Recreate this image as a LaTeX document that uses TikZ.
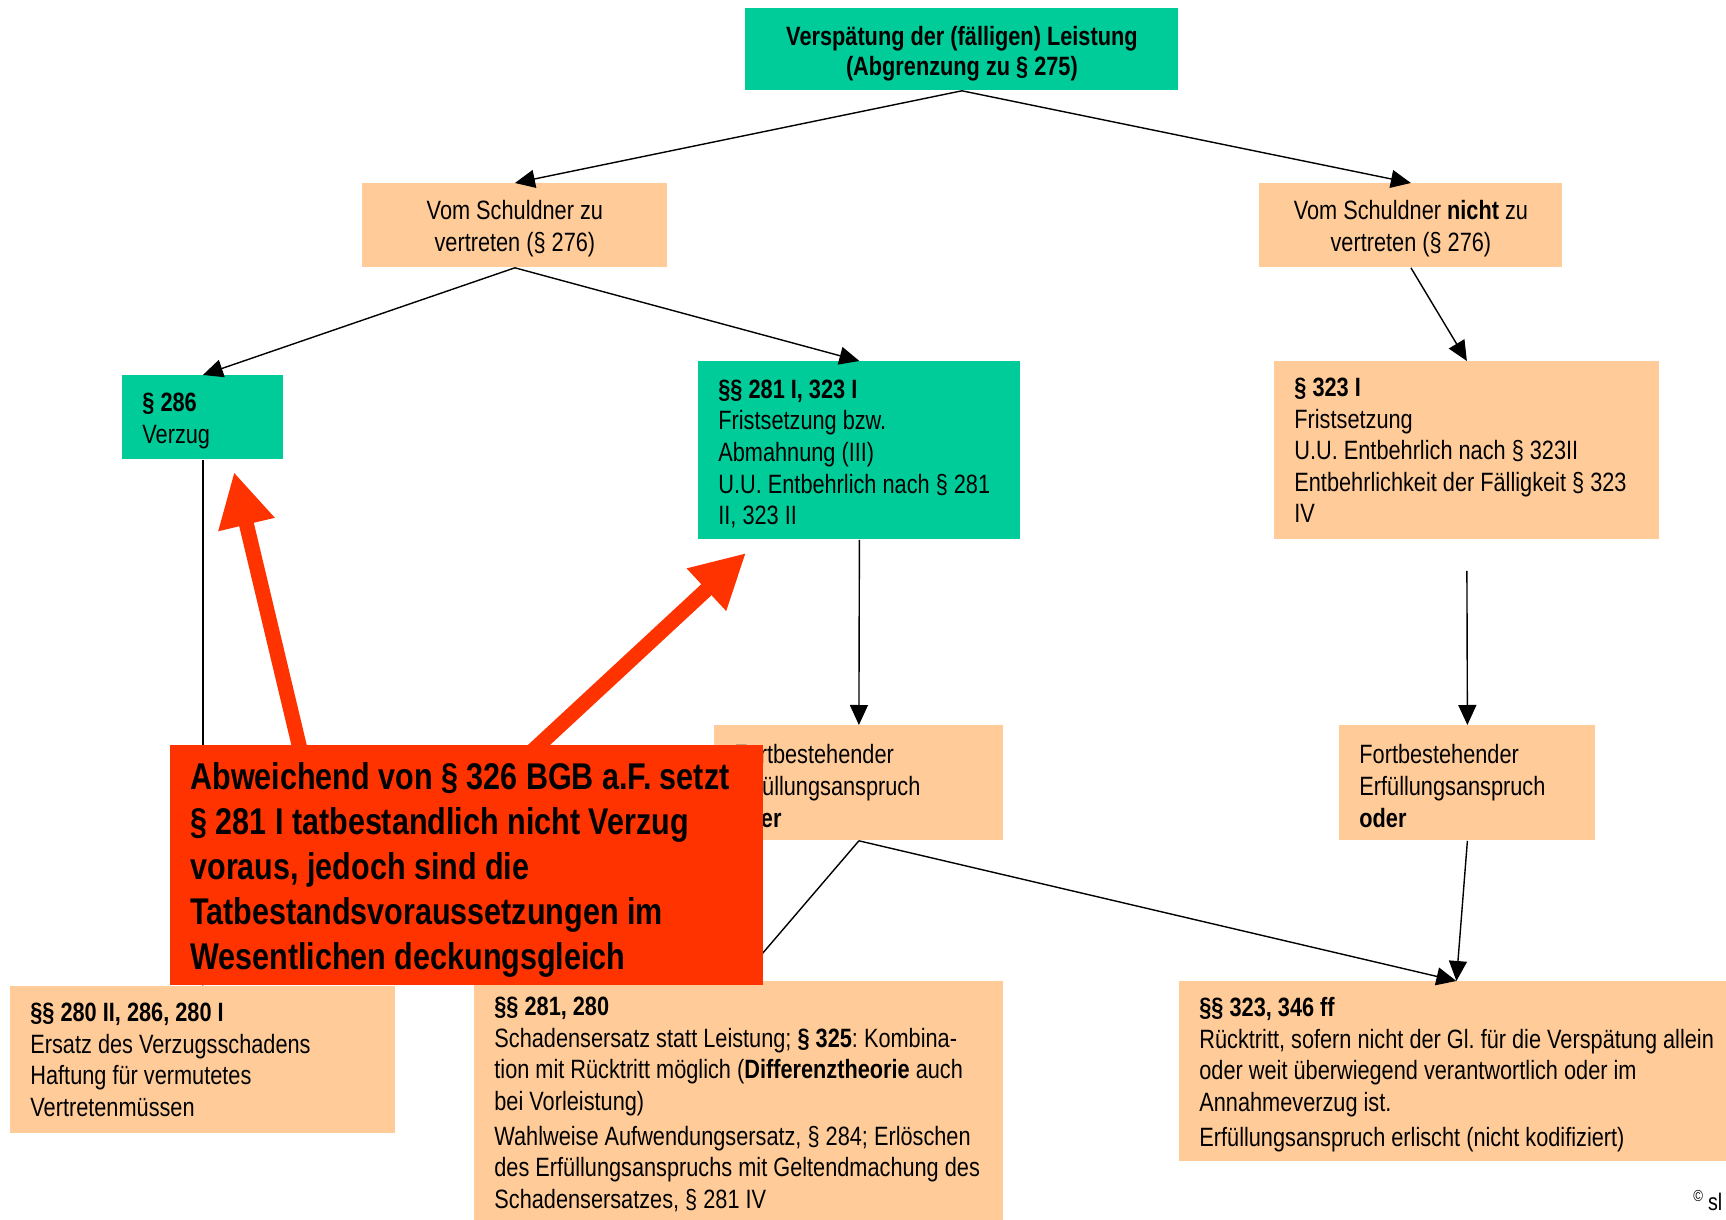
\documentclass[tikz,border=0pt]{standalone}
\usepackage{fontspec}
\setmainfont{Liberation Sans}[FakeStretch=0.82]
\frenchspacing
\usetikzlibrary{arrows.meta,positioning}
\definecolor{lawgreen}{RGB}{0,204,153}
\definecolor{lawpeach}{RGB}{255,204,153}
\definecolor{hintred}{RGB}{255,51,0}
\tikzset{
    boxsize/.style 2 args={text width=#1, minimum height=#2},
    topstrut/.style={execute at begin node={\rule{0pt}{#1}}},
}
\tikzstyle{delay chart}=[
    x=0.5pt, y=-0.5pt,
    every node/.style={
        anchor=north west, align=flush left,
        inner xsep=10pt, inner ysep=0pt,
        font=\fontsize{13.25}{15.8}\selectfont,
    },
]
\tikzstyle{green box}=[fill=lawgreen, topstrut=12.8pt]
\tikzstyle{peach box}=[fill=lawpeach, topstrut=12.8pt]
\tikzstyle{flow}=[-{Triangle[length=10pt,width=9pt]}, line width=0.7pt]
\tikzstyle{hint}=[-{Triangle[length=27pt,width=27pt]}, line width=7.5pt, draw=hintred]
\newcommand{\lawlabel}[2]{\textbf{#1}\\#2}

\begin{document}
\begin{tikzpicture}[delay chart]
    \path[use as bounding box, fill=white] (0,0) rectangle (1726,1220);

    % upper rows
    \node[fill=lawgreen, topstrut=14pt, boxsize={196.5pt}{41pt}, align=flush center, font=\fontsize{13.25}{15}\selectfont\bfseries] (delay) at (745,8)
        {Verspätung der (fälligen) Leistung\\(Abgrenzung zu § 275)};
    \node[peach box, boxsize={132.5pt}{42pt}, align=flush center] (owed) at (362,183)
        {Vom Schuldner zu\\vertreten (§ 276)};
    \node[peach box, boxsize={131.5pt}{42pt}, align=flush center] (notowed) at (1259,183)
        {Vom Schuldner \textbf{nicht} zu\\vertreten (§ 276)};
    \node[green box, boxsize={60.5pt}{42pt}] (verzug) at (122,375)
        {\lawlabel{§ 286}{Verzug}};
    \node[green box, boxsize={141pt}{89pt}] (frist) at (698,361)
        {\lawlabel{§§ 281 I, 323 I}{Fristsetzung bzw.\\Abmahnung (III)\\\mbox{U.U. Entbehrlich nach § 281}\\II, 323 II}};
    \node[fill=lawpeach, boxsize={172.5pt}{89pt}] (rfrist) at (1274,361)
        {\lawlabel{§ 323 I}{Fristsetzung\\U.U. Entbehrlich nach § 323II\\\mbox{Entbehrlichkeit der Fälligkeit § 323}\\IV}};
    \coordinate[below=15.5pt of rfrist] (gap);

    % Erfuellungsanspruch
    \node[peach box, boxsize={124.5pt}{57.5pt}] (fortm) at (714,725)
        {Fortbestehender\\Erfüllungsanspruch\\\textbf{oder}};
    \node[peach box, boxsize={108pt}{57.5pt}] (fortr) at (1339,725)
        {Fortbestehender\\Erfüllungsanspruch\\\textbf{oder}};

    % Rechtsfolgen
    \node[fill=lawpeach, boxsize={172.5pt}{73.5pt}] (damage) at (10,986)
        {\lawlabel{§§ 280 II, 286, 280 I}{Ersatz des Verzugsschadens\\Haftung für vermutetes\\Vertretenmüssen}};
    \node[peach box, boxsize={244.5pt}{119.5pt}] (sse) at (474,981)
        {\lawlabel{§§ 281, 280}{\mbox{Schadensersatz statt Leistung; \textbf{§ 325}: Kombina-}\\\mbox{tion mit Rücktritt möglich (\textbf{Differenztheorie} auch}\\bei Vorleistung)\\[1.5pt]\mbox{Wahlweise Aufwendungsersatz, § 284; Erlöschen}\\\mbox{des Erfüllungsanspruchs mit Geltendmachung des}\\Schadensersatzes, § 281 IV}};
    \node[peach box, boxsize={257pt}{90pt}] (withdraw) at (1179,981)
        {\lawlabel{§§ 323, 346 ff}{\mbox{Rücktritt, sofern nicht der Gl. für die Verspätung allein}\\oder weit überwiegend verantwortlich oder im\\Annahmeverzug ist.\\[1.5pt]Erfüllungsanspruch erlischt (nicht kodifiziert)}};

    \path[flow]
        (delay.south) edge (owed.north)
        (delay.south) edge (notowed.north)
        (owed.south) edge (verzug.north)
        (owed.south) edge (frist.north)
        (notowed.south) edge (rfrist.north)
        (verzug.south) edge (damage.north)
        (frist.south) edge (fortm.north)
        (gap) edge (fortr.north)
        (fortm.south) edge (sse.north)
        (fortm.south) edge (withdraw.north)
        (fortr.south) edge (withdraw.north)
    ;

    % Hinweis
    \coordinate (hint286) at (234,472);
    \coordinate (hint281) at (746,553);
    \coordinate (hintfoot286) at (305,770);
    \coordinate (hintfoot281) at (512,770);
    \draw[hint] (hintfoot286) -- (hint286);
    \draw[hint] (hintfoot281) -- (hint281);
    \node[fill=hintred, topstrut=18pt, boxsize={276.5pt}{120pt}, font=\fontsize{18.6}{22.4}\selectfont\bfseries] (note) at (170,745)
        {\mbox{Abweichend von § 326 BGB a.F. setzt}\\§ 281 I tatbestandlich nicht Verzug\\voraus, jedoch sind die\\Tatbestandsvoraussetzungen im\\Wesentlichen deckungsgleich};

    \node[anchor=base west, inner sep=0pt, font=\fontsize{12}{14}\selectfont] (mark) at (1693,1210)
        {\textsuperscript{©}\,sl};
\end{tikzpicture}
\end{document}
